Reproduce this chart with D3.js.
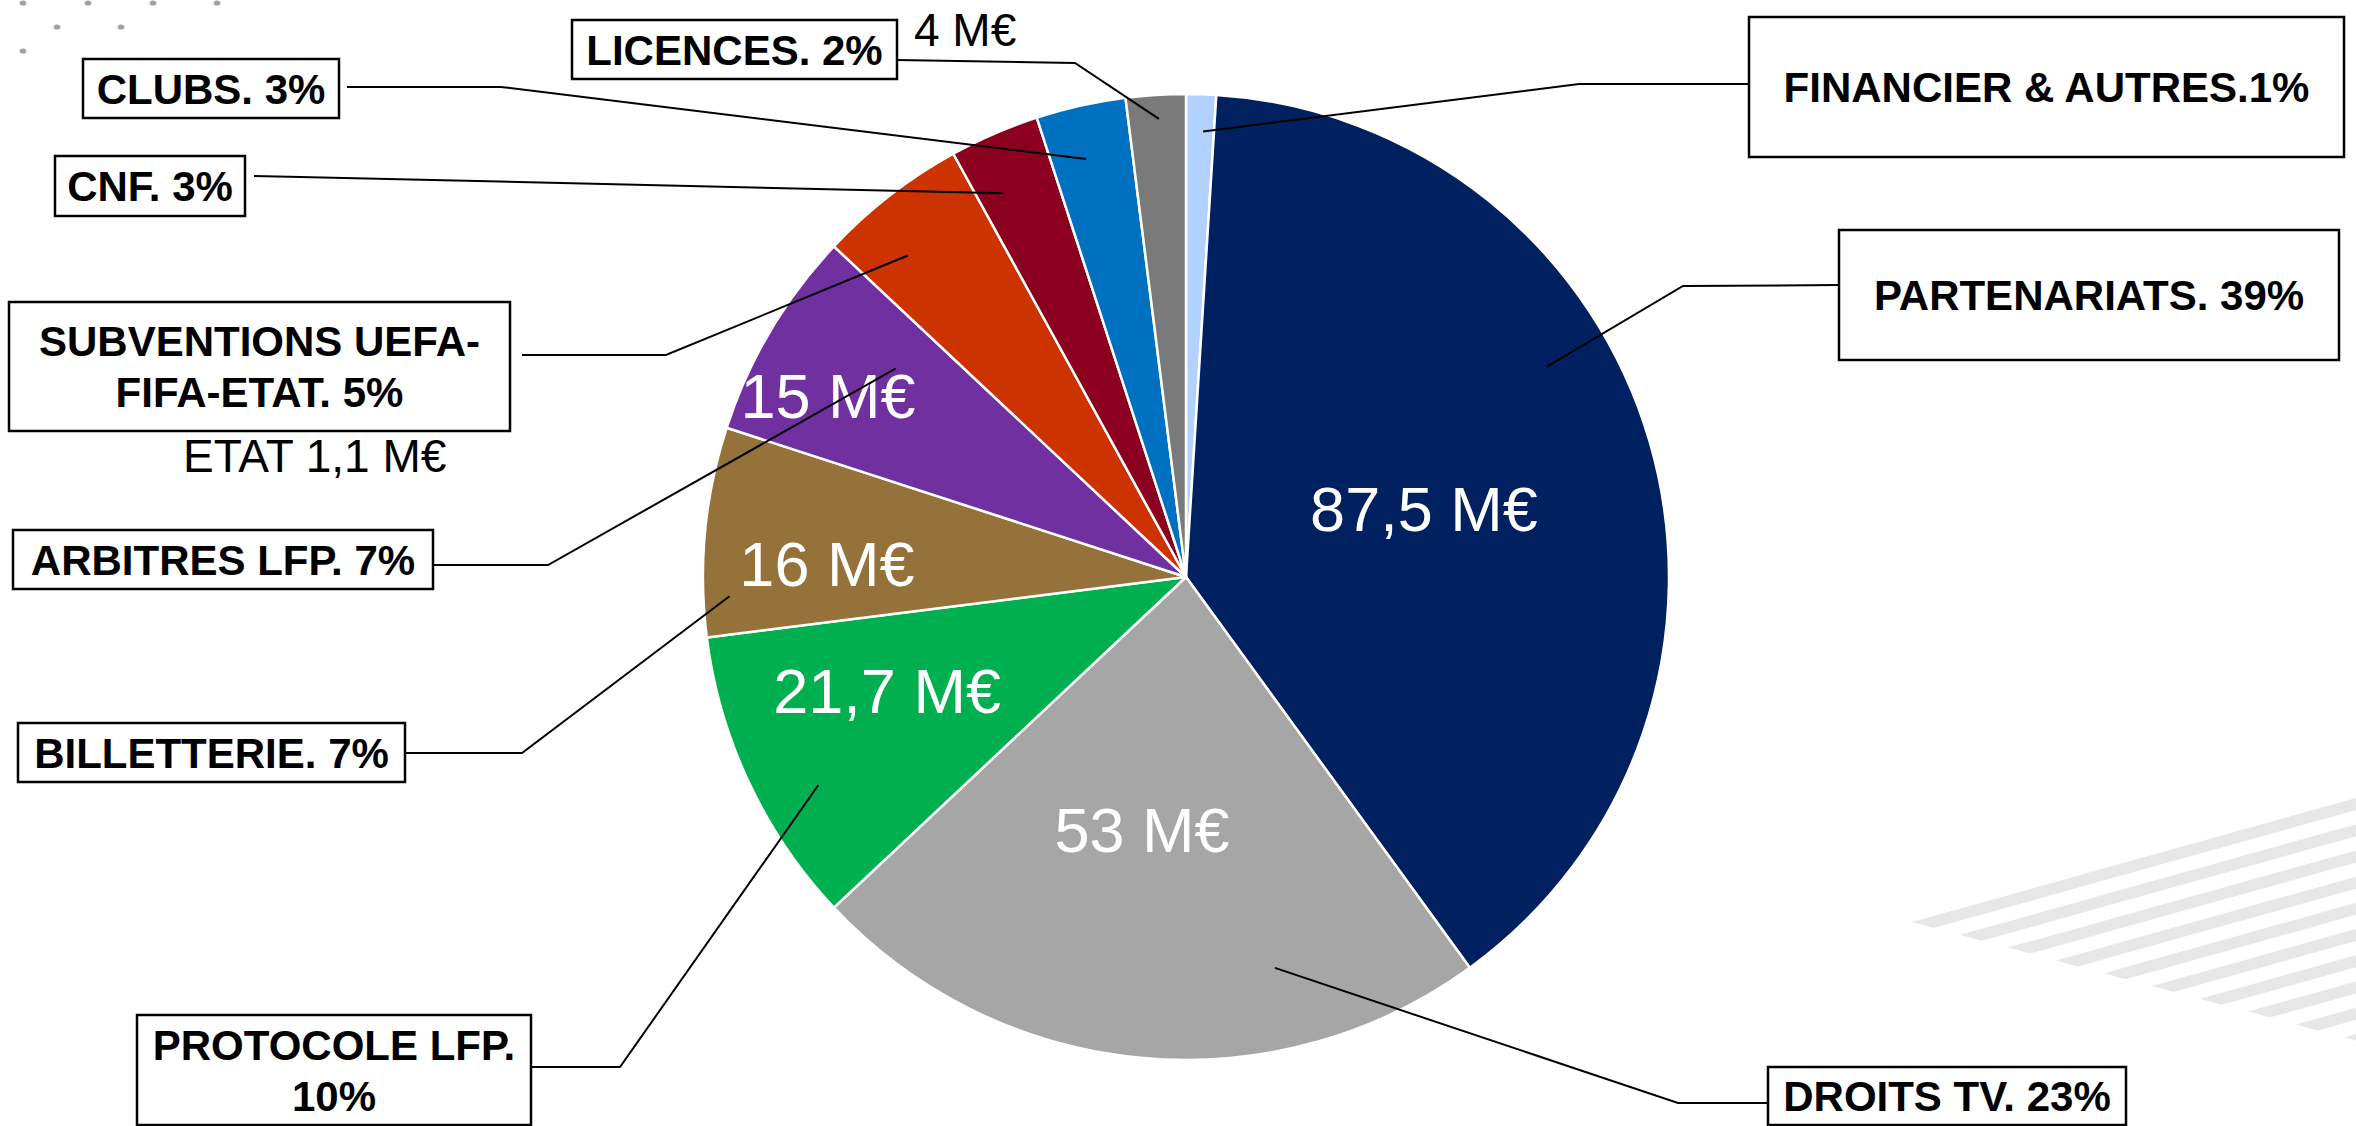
<!DOCTYPE html>
<html>
<head>
<meta charset="utf-8">
<script src="https://cdn.jsdelivr.net/npm/d3@7"></script>
<style>
    body { margin: 0; background: #fff; }
    svg { display: block; font-family: "Liberation Sans", Arial, sans-serif; }
    .box-text { font-weight: bold; font-size: 42px; fill: #000; text-anchor: middle; }
    .value-text { font-size: 63px; fill: #fff; text-anchor: middle; }
    .note-text { font-size: 46px; fill: #000; }
</style>
</head>
<body>
<div id="chart"></div>
<script>
// data, clockwise from 12 o'clock
const categories = ['FINANCIER & AUTRES', 'PARTENARIATS', 'DROITS TV', 'PROTOCOLE LFP', 'BILLETTERIE',
    'ARBITRES LFP', 'SUBVENTIONS UEFA-FIFA-ETAT', 'CNF', 'CLUBS', 'LICENCES'];
const shares = [1, 39, 23, 10, 7, 7, 5, 3, 3, 2];
const boxLabels = [
    ['FINANCIER & AUTRES.1%'],
    ['PARTENARIATS. 39%'],
    ['DROITS TV. 23%'],
    ['PROTOCOLE LFP.', '10%'],
    ['BILLETTERIE. 7%'],
    ['ARBITRES LFP. 7%'],
    ['SUBVENTIONS UEFA-', 'FIFA-ETAT. 5%'],
    ['CNF. 3%'],
    ['CLUBS. 3%'],
    ['LICENCES. 2%']
];
const amounts = ['', '87,5 M€', '53 M€', '21,7 M€', '16 M€', '15 M€', '', '', '', '4 M€'];
const etatNote = 'ETAT 1,1 M€';

const colors = ['#b3d1ff', '#002060', '#a6a6a6', '#00b050', '#96723b',
    '#7030a0', '#cc3300', '#8b001e', '#0070c0', '#7a7a7a'];

// layout of the callouts (boxes, elbow of leader, start of leader)
const layout = [
    {box: [1749, 17, 595, 140], start: [1749, 84], bend: [1579, 84], t: 0.61, r: 0.923},
    {box: [1839, 230, 500, 130], start: [1839, 285], bend: [1683, 286], t: 0.40, r: 0.865},
    {box: [1768, 1067, 358, 58], start: [1768, 1103], bend: [1678, 1103], t: 0.28, r: 0.83},
    {box: [137, 1015, 394, 110], start: [531, 1067], bend: [620, 1067], t: 0.38, r: 0.875},
    {box: [18, 723, 387, 59], start: [405, 753], bend: [522, 753], t: 0.19, r: 0.946},
    {box: [13, 530, 420, 59], start: [433, 565], bend: [548, 565], t: 0.70, r: 0.74},
    {box: [9, 302, 501, 129], start: [522, 355], bend: [666, 355], t: 0.33, r: 0.88},
    {box: [55, 156, 190, 60], start: [254, 176], bend: [300, 177], t: 0.31, r: 0.88},
    {box: [83, 59, 256, 59], start: [347, 87], bend: [501, 87], t: 0.42, r: 0.89},
    {box: [572, 20, 325, 59], start: [897, 60], bend: [1075, 63], t: 0.53, r: 0.95}
];
// where the amounts sit inside their slice
const amountPos = [null, {t: 0.50, r: 0.513}, {t: 0.554, r: 0.531}, {t: 0.622, r: 0.662},
    {t: 0.373, r: 0.744}, {t: 0.353, r: 0.831}, null, null, null, null];

var width = 2356, height = 1126;
var cx = 1186, cy = 577, radius = 483;

var svg = d3.select('#chart').append('svg')
    .attr('width', width)
    .attr('height', height);

svg.append('rect').attr('width', width).attr('height', height).attr('fill', '#fff');

// slide decoration: dots top-left
var dots = [[23, 3], [88, 3], [153, 3], [217, 3], [57, 27], [121, 27], [23, 51]];
svg.selectAll('.dot').data(dots).enter().append('ellipse')
    .attr('cx', d => d[0]).attr('cy', d => d[1])
    .attr('rx', 3.4).attr('ry', 2.6)
    .attr('fill', '#9aa4ac');

// slide decoration: stripes bottom-right
var ang = 15.6 * Math.PI / 180;
var ux = Math.cos(ang), uy = -Math.sin(ang);
var stripes = d3.range(10).map(i => [1912 + i * 48, 922 + i * 12.8]);
svg.selectAll('.stripe').data(stripes).enter().append('path')
    .attr('d', d => {
        var len = 700;
        var p0 = d, p1 = [d[0] + 21.6, d[1] + 6];
        return 'M' + p0 + 'L' + [p0[0] + ux * len, p0[1] + uy * len] +
            'L' + [p1[0] + ux * len, p1[1] + uy * len] + 'L' + p1 + 'Z';
    })
    .attr('fill', '#e7e7e7');

// pie
var pie = d3.pie().sort(null).value(d => d);
var arcs = pie(shares);
var arc = d3.arc().innerRadius(0).outerRadius(radius);

var g = svg.append('g').attr('transform', 'translate(' + cx + ',' + cy + ')');

g.selectAll('.slice').data(arcs).enter().append('path')
    .attr('d', arc)
    .attr('fill', (d, i) => colors[i])
    .attr('stroke', '#fff')
    .attr('stroke-width', 2.5)
    .attr('stroke-linejoin', 'round');

function inSlice(d, t, r) {
    var a = d.startAngle + (d.endAngle - d.startAngle) * t;
    var p = d3.pointRadial(a, r * radius);
    return [p[0] + cx, p[1] + cy];
}

// amounts inside the slices
arcs.forEach((d, i) => {
    if (!amountPos[i]) return;
    var p = inSlice(d, amountPos[i].t, amountPos[i].r);
    svg.append('text')
        .attr('class', 'value-text')
        .attr('x', p[0])
        .attr('y', p[1])
        .attr('dy', '0.36em')
        .text(amounts[i]);
});

// leader lines
var line = d3.line();
arcs.forEach((d, i) => {
    var L = layout[i];
    svg.append('path')
        .attr('d', line([L.start, L.bend, inSlice(d, L.t, L.r)]))
        .attr('fill', 'none')
        .attr('stroke', '#000')
        .attr('stroke-width', 2);
});

// callout boxes
arcs.forEach((d, i) => {
    var b = layout[i].box;
    svg.append('rect')
        .attr('x', b[0]).attr('y', b[1])
        .attr('width', b[2]).attr('height', b[3])
        .attr('fill', '#fff')
        .attr('stroke', '#000')
        .attr('stroke-width', 2.5);
    var lines = boxLabels[i];
    var lh = 51;
    var y0 = b[1] + b[3] / 2 - (lines.length - 1) * lh / 2 + 15;
    var t = svg.append('text').attr('class', 'box-text');
    lines.forEach((s, k) => {
        t.append('tspan')
            .attr('x', b[0] + b[2] / 2)
            .attr('y', y0 + k * lh)
            .text(s);
    });
});

// loose notes
svg.append('text').attr('class', 'note-text')
    .attr('x', 914).attr('y', 46)
    .text(amounts[9]);
svg.append('text').attr('class', 'note-text')
    .attr('x', 183).attr('y', 472)
    .text(etatNote);
</script>
</body>
</html>
